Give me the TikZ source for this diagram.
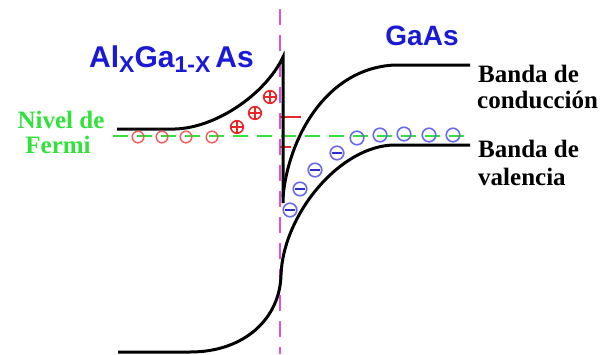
\documentclass[tikz,border=0pt]{standalone}
\usepackage{fontspec}
\setmainfont{Liberation Serif}
\newfontfamily\arialfont{Liberation Sans}
\definecolor{titleblue}{RGB}{25,25,215}
\definecolor{fermigreen}{RGB}{50,225,60}
\definecolor{pinkline}{RGB}{225,80,215}
\definecolor{holered}{RGB}{235,95,95}
\definecolor{plusred}{RGB}{230,40,40}
\definecolor{elblue}{RGB}{105,105,235}
\definecolor{minusblue}{RGB}{45,45,205}
\begin{document}
\begin{tikzpicture}[x=1pt,y=-1pt,
  band/.style={line width=3pt, black},
  serlabel/.style={anchor=base west, inner sep=0pt, font=\fontsize{25}{26}\selectfont\bfseries},
  fermilabel/.style={anchor=base, inner sep=0pt, text=fermigreen, font=\fontsize{25}{26}\selectfont\bfseries},
  hole/.style={holered, line width=1.5pt},
  plusmark/.style={plusred, line width=1.6pt},
  elec/.style={elblue, line width=1.6pt},
  minusmark/.style={minusblue, line width=1.9pt}]
\useasboundingbox (0,0) rectangle (602,354);
% interface
\draw[pinkline, line width=2.3pt, dash pattern=on 16pt off 10pt] (280,9) -- (280,354);
% Fermi level
\draw[fermigreen, line width=2.8pt, dash pattern=on 15pt off 9pt] (113,136) -- (470,136);
% red marks
\draw[plusred, line width=2.6pt] (280,117) -- (301,117);
\draw[plusred, line width=2.6pt] (280,147) -- (291,147);
% bands
\draw[band, line join=miter] (117,129) -- (175,129) .. controls (215,128) and (265,95) .. (283,57) -- (283,203);
\draw[band] (283,197) .. controls (288,140) and (325,68) .. (395,65) -- (470,65);
\draw[band] (470,145) -- (395,145) .. controls (340,145) and (283,215) .. (281,275) .. controls (280,318) and (245,352) .. (190,352) -- (118,352);
% holes
\foreach \x in {138,162,186,212} \draw[hole] (\x,137) circle[radius=5.8pt];
\foreach \x/\y in {237/127,255/113,270/97} {
  \draw[plusmark] (\x,\y) circle[radius=6.3pt];
  \draw[plusmark] (\x-6.3,\y) -- (\x+6.3,\y) (\x,\y-6.3) -- (\x,\y+6.3);
}
% electrons
\foreach \x/\y in {290/210,300/189,315/170,337/153} {
  \draw[elec] (\x,\y) circle[radius=6.8pt];
  \draw[minusmark] (\x-5,\y) -- (\x+5,\y);
}
\foreach \x/\y in {357/138,380/135,404/134,429/135,453/135} \draw[elec] (\x,\y) circle[radius=6.8pt];
% labels
\node[anchor=base west, inner sep=0pt, text=titleblue] (alga) at (89,67)
  {\arialfont\bfseries\fontsize{30}{30}\selectfont Al\raisebox{-5pt}{\fontsize{23}{23}\selectfont X}Ga\raisebox{-5pt}{\fontsize{23}{23}\selectfont 1-X}\hspace{5pt}As};
\node[anchor=base, inner sep=0pt, text=titleblue] (gaas) at (422,45)
  {\arialfont\bfseries\fontsize{28}{28}\selectfont GaAs};
\node[serlabel] (bc1) at (478,82) {Banda de};
\node[serlabel] (bc2) at (477,108) {conducción};
\node[serlabel] (bv1) at (478,157) {Banda de};
\node[serlabel] (bv2) at (478,185) {valencia};
\node[fermilabel] (nf1) at (61,128) {Nivel de};
\node[fermilabel] (nf2) at (58,153) {Fermi};
\end{tikzpicture}
\end{document}
